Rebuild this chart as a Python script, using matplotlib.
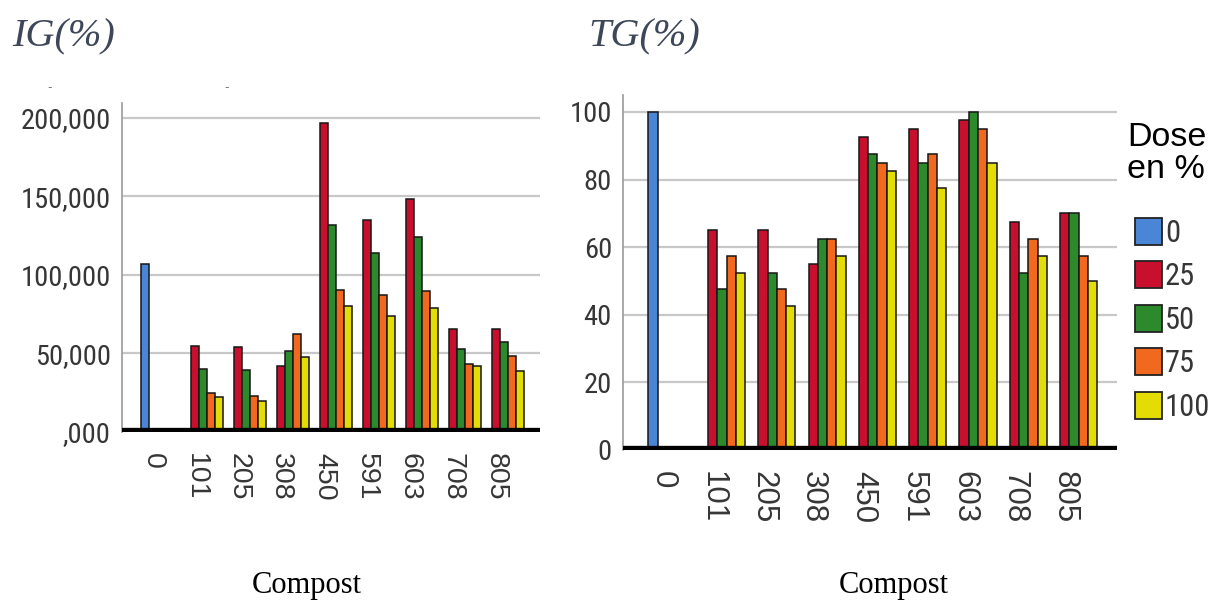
import numpy as np
import matplotlib
matplotlib.use("Agg")
import matplotlib.pyplot as plt
from matplotlib import font_manager
from matplotlib.patches import Patch

# --- Data ---
composts = ["0", "101", "205", "308", "450", "591", "603", "708", "805"]
doses = ["0", "25", "50", "75", "100"]
nan = np.nan

# IG(%) : germination index
ig_d0 = [107000, nan, nan, nan, nan, nan, nan, nan, nan]
ig_d25 = [nan, 55000, 54000, 42000, 197000, 135000, 148500, 65500, 65500]
ig_d50 = [nan, 40000, 39500, 51500, 131500, 114000, 124000, 53000, 57000]
ig_d75 = [nan, 25000, 23000, 62500, 90500, 87500, 90000, 43000, 48500]
ig_d100 = [nan, 22500, 19500, 48000, 80500, 74000, 79000, 42000, 39000]

# TG(%) : germination rate
tg_d0 = [100, nan, nan, nan, nan, nan, nan, nan, nan]
tg_d25 = [nan, 65, 65, 55, 92.5, 95, 97.5, 67.5, 70]
tg_d50 = [nan, 47.5, 52.5, 62.5, 87.5, 85, 100, 52.5, 70]
tg_d75 = [nan, 57.5, 47.5, 62.5, 85, 87.5, 95, 62.5, 57.5]
tg_d100 = [nan, 52.5, 42.5, 57.5, 82.5, 77.5, 85, 57.5, 50]

ig_ticks = [0, 50000, 100000, 150000, 200000]
ig_ticklabels = [",000", "50,000", "100,000", "150,000", "200,000"]
tg_ticks = [0, 20, 40, 60, 80, 100]

colors = ["#4b86d6", "#c8102e", "#2c8a2c", "#f0691f", "#e3dc05"]


# --- Fonts ---
def pick_narrow():
    names = {f.name for f in font_manager.fontManager.ttflist}
    for n in ["Liberation Sans Narrow", "Arial Narrow", "Roboto Condensed",
              "Open Sans Condensed"]:
        if n in names:
            return {"family": n}
    for f in font_manager.fontManager.ttflist:
        if f.name in ("DejaVu Sans", "Roboto", "Open Sans") and "condensed" in str(f.stretch):
            return {"family": f.name, "stretch": "condensed"}
    return {"family": "Liberation Sans"}


narrow = pick_narrow()
sans = "Liberation Sans"
serif = "Liberation Serif"
tick_grey = "#363636"


def draw_panel(ax, series, xlim, ylim, yticks, yticklabels, ysize, xsize, bw=0.185):
    idx = np.arange(len(composts))
    for j, vals in enumerate(series):
        vals = np.asarray(vals, dtype=float)
        ok = ~np.isnan(vals)
        ax.bar(idx[ok] + (j - 2) * bw, vals[ok], width=bw, color=colors[j],
               edgecolor="#161616", linewidth=1.1, zorder=2)
    ax.set_xlim(*xlim)
    ax.set_ylim(*ylim)
    ax.axhline(0, color="black", lw=6, zorder=4, solid_capstyle="butt")
    ax.yaxis.grid(True, color="#c8c8c8", lw=1.6)
    ax.set_axisbelow(True)
    for s in ["top", "right", "bottom"]:
        ax.spines[s].set_visible(False)
    ax.spines["left"].set_color("#9a9a9a")
    ax.spines["left"].set_linewidth(1.2)
    ax.set_yticks(yticks)
    ax.set_yticklabels(yticklabels)
    fp = font_manager.FontProperties(size=ysize, **narrow)
    for t in ax.get_yticklabels():
        t.set_fontproperties(fp)
        t.set_color(tick_grey)
    ax.set_xticks(idx - bw)
    ax.set_xticklabels(composts, rotation=-90, family=sans, fontsize=xsize,
                       color=tick_grey, va="top", ha="center")
    ax.tick_params(axis="both", length=0)
    ax.tick_params(axis="y", pad=8)
    ax.tick_params(axis="x", pad=15)


fig = plt.figure(figsize=(12.12, 6.02), dpi=100)

# Left panel: IG(%)
ax1 = fig.add_axes([122 / 1212, 170 / 602, 418 / 1212, 329 / 602])
draw_panel(ax1, [ig_d0, ig_d25, ig_d50, ig_d75, ig_d100],
           (-0.897, 8.846), (0, 209500), ig_ticks, ig_ticklabels, 20.5, 20.5)

# Right panel: TG(%)
ax2 = fig.add_axes([623 / 1212, 152 / 602, 494 / 1212, 355 / 602])
draw_panel(ax2, [tg_d0, tg_d25, tg_d50, tg_d75, tg_d100],
           (-0.966, 8.855), (0, 105), tg_ticks, [str(t) for t in tg_ticks], 20.5, 22.5)

# Titles and axis captions
title_kw = dict(family=serif, style="italic", fontsize=29, color="#3d4759", va="center")
fig.text(12 / 1212, 1 - 37 / 602, "IG(%)", **title_kw)
fig.text(588 / 1212, 1 - 37 / 602, "TG(%)", **title_kw)
fig.text(50 / 1212, 1 - 88 / 602, "-", fontsize=9, color="#777777", ha="center", va="center")
fig.text(227 / 1212, 1 - 88 / 602, "-", fontsize=9, color="#777777", ha="center", va="center")

cap_kw = dict(family=serif, fontsize=22, color="black", ha="center", va="center")
fig.text(307 / 1212, 1 - 585 / 602, "Compost", **cap_kw)
fig.text(894 / 1212, 1 - 585 / 602, "Compost", **cap_kw)

# Legend
fig.text(1127 / 1212, 1 - 122 / 602, "Dose\nen %", family=sans, fontsize=24.5,
         color="black", ha="left", va="top", linespacing=1.05)
handles = [Patch(facecolor=c, edgecolor="#222222", linewidth=1.3) for c in colors]
leg_fp = font_manager.FontProperties(size=22, **narrow)
leg = fig.legend(handles, doses, loc="upper left",
                 bbox_to_anchor=(1135 / 1212, 1 - 218 / 602), frameon=False,
                 prop=leg_fp, handlelength=0.88, handleheight=0.98,
                 handletextpad=0.1, labelspacing=0.44, borderpad=0,
                 borderaxespad=0)
for t in leg.get_texts():
    t.set_color(tick_grey)

fig.savefig("out.png", dpi=100)
